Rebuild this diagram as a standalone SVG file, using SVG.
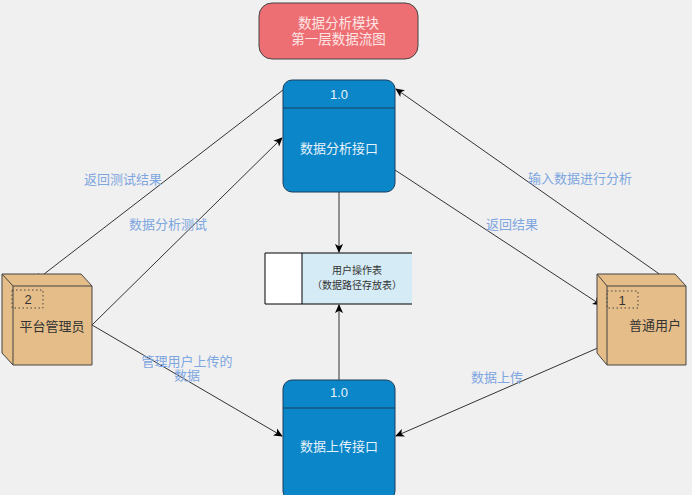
<svg xmlns="http://www.w3.org/2000/svg" width="692" height="495" viewBox="0 0 692 495">
<defs>
<marker id="arr" viewBox="0 0 10 10" refX="9" refY="5" markerWidth="9" markerHeight="9" markerUnits="userSpaceOnUse" orient="auto">
<path d="M0,0.5 L10,5 L0,9.5 L2.5,5 Z" fill="#000"/>
</marker>
<style>
text{font-family:"Liberation Sans","Noto Sans CJK SC",sans-serif;}
.lbl{fill:#7ea6e0;font-size:13px;text-anchor:middle;}
.proc{fill:#0a86c9;stroke:#1a3f5c;stroke-width:1;}
.ptxt{fill:#e8f2fa;font-size:13px;text-anchor:middle;}
.cube{fill:#e4bd88;stroke:#444;stroke-width:1;}
.ctxt{fill:#333;font-size:13px;text-anchor:middle;}
.dash{fill:none;stroke:#444;stroke-dasharray:1.5,2.5;stroke-width:1;}
.con{stroke:#333;stroke-width:1;fill:none;marker-end:url(#arr);}
</style>
</defs>
<rect width="692" height="495" fill="#f0f0f0"/>
<g id="title">
<rect x="259" y="3" width="159" height="56" rx="13" fill="#ee6f73" stroke="#444"/>
<text x="338.5" y="28" font-size="13.5" fill="#fde6e6" text-anchor="middle">数据分析模块</text>
<text x="338.5" y="44" font-size="13.5" fill="#fde6e6" text-anchor="middle">第一层数据流图</text>
</g>
<g id="connectors">
<line class="con" x1="283" y1="90" x2="35" y2="281"/>
<line class="con" x1="92" y1="325" x2="282" y2="138"/>
<line class="con" x1="665" y1="278" x2="396" y2="89"/>
<line class="con" x1="395" y1="170" x2="601" y2="305"/>
<line class="con" x1="339" y1="192" x2="339" y2="252"/>
<line class="con" x1="339" y1="380" x2="339" y2="305"/>
<line class="con" x1="92" y1="325" x2="282" y2="436"/>
<line class="con" x1="600" y1="347" x2="396" y2="436"/>
</g>
<g id="labels">
<text class="lbl" x="123" y="184">返回测试结果</text>
<text class="lbl" x="168" y="229">数据分析测试</text>
<text class="lbl" x="580" y="183">输入数据进行分析</text>
<text class="lbl" x="512" y="229">返回结果</text>
<text class="lbl" x="187" y="366">管理用户上传的</text>
<text class="lbl" x="187" y="380">数据</text>
<text class="lbl" x="497" y="382">数据上传</text>
</g>
<g id="p1">
<rect class="proc" x="283" y="80" width="112" height="112" rx="9"/>
<line x1="283" y1="108" x2="395" y2="108" stroke="#1a3f5c"/>
<text class="ptxt" x="339" y="99">1.0</text>
<text class="ptxt" x="339" y="153">数据分析接口</text>
</g>
<g id="store">
<rect x="302" y="253" width="110" height="51" fill="#d5ebf5"/>
<rect x="265" y="253" width="37" height="51" fill="#fff"/>
<path d="M412,253 H265 V304 H412 M302,253 V304" fill="none" stroke="#000" stroke-width="1"/>
<text x="357" y="274" font-size="10" fill="#333" text-anchor="middle">用户操作表</text>
<text x="357" y="289" font-size="10" fill="#333" text-anchor="middle">（数据路径存放表）</text>
</g>
<g id="p2">
<rect class="proc" x="283" y="380" width="112" height="120" rx="9"/>
<line x1="283" y1="408" x2="395" y2="408" stroke="#1a3f5c"/>
<text class="ptxt" x="339" y="397">1.0</text>
<text class="ptxt" x="339" y="451">数据上传接口</text>
</g>
<g id="admin">
<path class="cube" d="M2,274 H81 L92,286 V365 H13 L2,353 Z"/>
<path d="M2,274 L13,286 H92 M13,286 V365" fill="none" stroke="#444"/>
<rect class="dash" x="12" y="290" width="31" height="18"/>
<text class="ctxt" x="28" y="304">2</text>
<text class="ctxt" x="52" y="331">平台管理员</text>
</g>
<g id="user">
<path class="cube" d="M597,274 H675 L686,286 V365 H607 L597,353 Z"/>
<path d="M597,274 L607,286 H686 M607,286 V365" fill="none" stroke="#444"/>
<rect class="dash" x="607" y="291" width="31" height="17"/>
<text class="ctxt" x="622" y="305">1</text>
<text class="ctxt" x="655" y="330">普通用户</text>
</g>
</svg>
